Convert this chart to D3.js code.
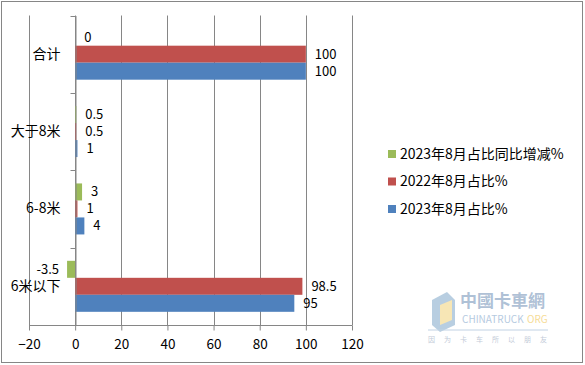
<!DOCTYPE html>
<html><head><meta charset="utf-8">
<script src="https://cdn.jsdelivr.net/npm/d3@7"></script>
<style>body{margin:0;background:#fff}svg{display:block}text{font-family:"Noto Sans CJK SC","Noto Sans",sans-serif}</style>
</head><body>
<script>
const categories = ["合计", "大于8米", "6-8米", "6米以下"];
const seriesNames = ["2023年8月占比同比增减%", "2022年8月占比%", "2023年8月占比%"];
const yoyChange = [0, 0.5, 3, -3.5];
const share2022 = [100, 0.5, 1, 98.5];
const share2023 = [100, 1, 4, 95];
const xTicks = [-20, 0, 20, 40, 60, 80, 100, 120];
const colors = ["#9BBB59", "#C0504D", "#4F81BD"];

const W = 585, H = 365;
const svg = d3.select("body").append("svg").attr("width", W).attr("height", H);
svg.append("rect").attr("x", 1.5).attr("y", 1.5).attr("width", 581).attr("height", 361)
  .attr("fill", "#fff").attr("stroke", "#868686").attr("stroke-width", 1);

const x = d3.scaleLinear().domain([-20, 120]).range([29, 352]);
const y = d3.scaleBand().domain(categories).range([15.5, 325]);
const pad = (y.bandwidth() - 51) / 2;
const ys = d3.scaleBand().domain([0, 1, 2]).range([pad, y.bandwidth() - pad]);

// gridlines
svg.append("g").selectAll("line").data(xTicks).join("line")
  .attr("x1", d => Math.round(x(d)) + 0.5).attr("x2", d => Math.round(x(d)) + 0.5)
  .attr("y1", 15.5).attr("y2", 325).attr("stroke", "#868686");

// bars
const seriesData = [yoyChange, share2022, share2023];
const rows = [];
categories.forEach((c, i) => seriesData.forEach((s, j) => rows.push({c, j, v: s[i]})));
svg.append("g").selectAll("rect").data(rows).join("rect")
  .attr("x", d => x(Math.min(0, d.v)))
  .attr("width", d => Math.abs(x(d.v) - x(0)))
  .attr("y", d => y(d.c) + ys(d.j))
  .attr("height", ys.bandwidth())
  .attr("fill", d => colors[d.j]);

// value labels
svg.append("g").selectAll("text").data(rows).join("text")
  .attr("x", d => d.v < 0 ? x(d.v) - 8 : x(d.v) + 9)
  .attr("y", d => y(d.c) + ys(d.j) + ys.bandwidth() / 2)
  .attr("dy", "0.35em")
  .attr("text-anchor", d => d.v < 0 ? "end" : "start")
  .attr("font-size", 13).attr("fill", "#000")
  .text(d => d.v);

// x axis
const xa = svg.append("g").attr("transform", "translate(0,325.5)")
  .call(d3.axisBottom(x).tickValues(xTicks).tickSize(5).tickPadding(9).tickFormat(d3.format("d")));
xa.select(".domain").attr("stroke", "#868686").attr("d", `M${x(-20)},0H${x(120)+0.5}`);
xa.selectAll(".tick line").attr("stroke", "#868686");
xa.selectAll(".tick text").attr("font-size", 13.5).attr("fill", "#000")
  .attr("font-family", '"Noto Sans CJK SC","Noto Sans",sans-serif');

// y axis at zero
const ya = svg.append("g").attr("transform", `translate(${Math.round(x(0)) + 0.5},0)`)
  .call(d3.axisLeft(y).tickSize(0).tickPadding(15));
ya.select(".domain").attr("stroke", "#868686");
ya.selectAll(".tick text").attr("font-size", 14).attr("fill", "#000")
  .attr("font-family", '"Noto Sans CJK SC","Noto Sans",sans-serif');
const bounds = [15.5, ...categories.map(c => y(c) + y.bandwidth())];
svg.append("g").selectAll("line").data(bounds).join("line")
  .attr("x1", Math.round(x(0)) + 0.5 - 5).attr("x2", Math.round(x(0)) + 0.5)
  .attr("y1", d => Math.round(d) + 0.5).attr("y2", d => Math.round(d) + 0.5)
  .attr("stroke", "#868686");

// legend
const lg = svg.append("g").attr("transform", "translate(388,154)");
seriesNames.forEach((n, i) => {
  const g = lg.append("g").attr("transform", `translate(0,${i * 27.5})`);
  g.append("rect").attr("x", 0).attr("y", -4).attr("width", 8).attr("height", 8).attr("fill", colors[i]);
  g.append("text").attr("x", 12).attr("y", 0).attr("dy", "0.35em").attr("font-size", 14).attr("fill", "#000").text(n);
});

// watermark
const wm = svg.append("g").attr("opacity", 0.55);
wm.append("path").attr("d", "M432,300 L447,292 L455,300 L455,325 L440,332 L432,325 Z").attr("fill", "#7fa7c9");
wm.append("path").attr("d", "M440,305 L452,300 L452,320 L440,325 Z").attr("fill", "#f2d27a");
wm.append("text").attr("x", 460).attr("y", 307).attr("font-size", 17).attr("fill", "#6f8fb5").attr("font-weight", "bold").text("中國卡車網");
wm.append("text").attr("x", 462).attr("y", 323).attr("font-size", 10).attr("fill", "#7aa0c8").text("CHINATRUCK");
wm.append("text").attr("x", 527).attr("y", 323).attr("font-size", 10).attr("fill", "#f0c040").text("ORG");
wm.append("line").attr("x1", 428).attr("x2", 548).attr("y1", 330).attr("y2", 330).attr("stroke", "#8fb0d0");
wm.append("text").attr("x", 428).attr("y", 342).attr("font-size", 7).attr("fill", "#8fa0b8")
  .attr("letter-spacing", 9).text("因为卡车所以朋友");
</script>
</body></html>
